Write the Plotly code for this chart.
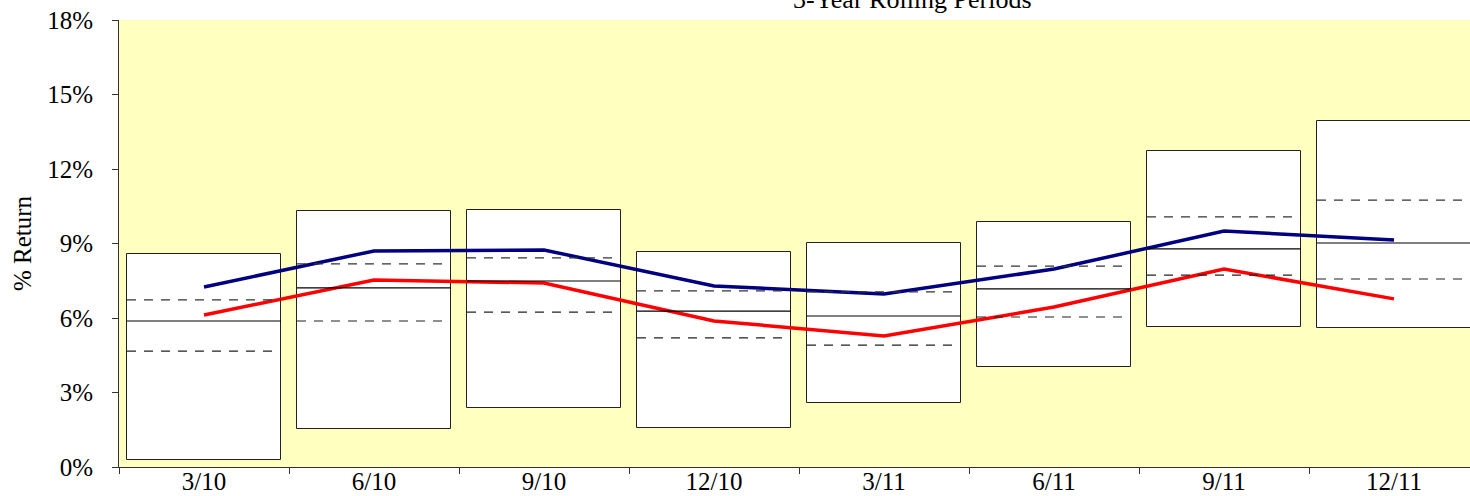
import plotly.graph_objects as go

categories = ["3/10", "6/10", "9/10", "12/10", "3/11", "6/11", "9/11", "12/11"]
box_max = [8.58, 10.31, 10.35, 8.66, 9.02, 9.87, 12.73, 13.93]
box_min = [0.28, 1.53, 2.38, 1.57, 2.58, 4.03, 5.64, 5.60]
upper_q = [6.73, 8.18, 8.42, 7.09, 7.05, 8.09, 10.07, 10.75]
median = [5.88, 7.21, 7.49, 6.28, 6.08, 7.17, 8.78, 9.02]
lower_q = [4.67, 5.88, 6.24, 5.20, 4.91, 6.04, 7.73, 7.57]
blue_series = [7.25, 8.70, 8.74, 7.29, 6.97, 7.97, 9.50, 9.14]
red_series = [6.12, 7.53, 7.41, 5.88, 5.28, 6.44, 7.97, 6.77]
y_ticks = [0, 3, 6, 9, 12, 15, 18]
y_tick_labels = [f"{v}%" for v in y_ticks]

FONT = "Liberation Serif"
BOX_W = 0.906
X_RANGE = [-0.5, 7.447]

fig = go.Figure()

fig.add_trace(go.Bar(
    x=categories,
    y=[hi - lo for hi, lo in zip(box_max, box_min)],
    base=box_min,
    width=BOX_W,
    marker=dict(color="white", line=dict(color="#222222", width=1)),
    hoverinfo="skip",
    showlegend=False,
))


def segments(values):
    xs, ys = [], []
    for i, v in enumerate(values):
        xs += [i - BOX_W / 2, i + BOX_W / 2, None]
        ys += [v, v, None]
    return xs, ys


for vals, dash, color in [(upper_q, "9px,8px", "#333333"),
                          (lower_q, "9px,8px", "#222222"),
                          (median, "solid", "#000000")]:
    xs, ys = segments(vals)
    fig.add_trace(go.Scatter(
        x=xs, y=ys, xaxis="x2", mode="lines",
        line=dict(color=color, width=1.2, dash=dash),
        hoverinfo="skip", showlegend=False,
    ))

fig.add_trace(go.Scatter(
    x=categories, y=blue_series, mode="lines",
    line=dict(color="#000080", width=3.5), showlegend=False,
))
fig.add_trace(go.Scatter(
    x=categories, y=red_series, mode="lines",
    line=dict(color="#FF0000", width=3.5), showlegend=False,
))

fig.update_layout(
    width=1470, height=496,
    margin=dict(l=119, r=0, t=20, b=29, autoexpand=False),
    paper_bgcolor="white",
    plot_bgcolor="#FFFFC0",
    font=dict(family=FONT, size=25, color="black"),
    bargap=0,
    xaxis=dict(
        type="category", range=X_RANGE, tickson="boundaries",
        ticks="outside", ticklen=6, tickcolor="#333333",
        showline=True, linecolor="#333333", linewidth=1,
        showgrid=False, zeroline=False, automargin=False,
        ticklabelstandoff=-8,
        tickfont=dict(family=FONT, size=25),
    ),
    xaxis2=dict(
        overlaying="x", range=X_RANGE, visible=False, showgrid=False,
    ),
    yaxis=dict(
        range=[0, 18], tickmode="array", tickvals=y_ticks, ticktext=y_tick_labels,
        ticks="outside", ticklen=6, tickcolor="#333333",
        showline=True, linecolor="#333333", linewidth=1,
        showgrid=False, zeroline=False, automargin=False,
        ticklabelstandoff=14, ticklabeloverflow="allow",
        tickfont=dict(family=FONT, size=25),
        title=dict(text="% Return", font=dict(family=FONT, size=25), standoff=8),
    ),
    annotations=[dict(
        text="3-Year Rolling Periods", xref="paper", yref="paper",
        x=(912 - 119) / 1351, y=1.0, yanchor="bottom", xanchor="center",
        yshift=4, showarrow=False, font=dict(family=FONT, size=26),
    )],
)

fig.write_html(
    "out.html",
    config={"displayModeBar": False},
    post_script="document.body.style.margin='0';document.body.style.overflow='hidden';",
)
